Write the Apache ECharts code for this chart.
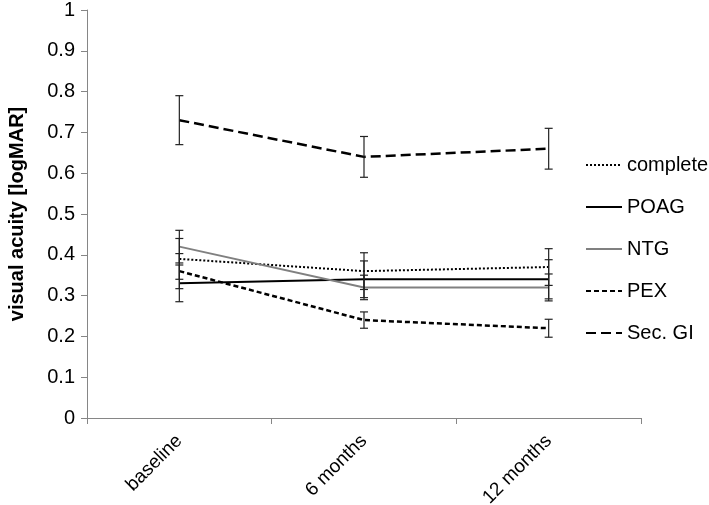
<!DOCTYPE html>
<html>
<head>
<meta charset="utf-8">
<script src="https://cdn.jsdelivr.net/npm/echarts@6/dist/echarts.min.js"></script>
<style>
html,body{margin:0;padding:0;background:#fff;}
#chart{width:709px;height:505px;}
</style>
</head>
<body>
<div id="chart"></div>
<script>
const categories = ['baseline', '6 months', '12 months'];
const complete = [0.39, 0.36, 0.37];
const completeErr = [0.05, 0.045, 0.045];
const poag = [0.33, 0.34, 0.34];
const poagErr = [0.045, 0.045, 0.048];
const ntg = [0.42, 0.32, 0.32];
const ntgErr = [0.04, 0.03, 0.033];
const pex = [0.36, 0.24, 0.22];
const pexErr = [0.043, 0.02, 0.022];
const secGl = [0.73, 0.64, 0.66];
const secGlErr = [0.06, 0.05, 0.05];

const FONT = '"Liberation Sans", Arial, sans-serif';

function errData(vals, errs) {
  return vals.map((v, i) => [i, v - errs[i], v + errs[i]]);
}
const errorData = [].concat(
  errData(complete, completeErr),
  errData(poag, poagErr),
  errData(ntg, ntgErr),
  errData(pex, pexErr),
  errData(secGl, secGlErr)
);

function lineSeries(name, data, color, width, type) {
  return {
    name: name, type: 'line', data: data, symbol: 'none',
    lineStyle: { color: color, width: width, type: type },
    itemStyle: { color: color },
    z: 2, animation: false
  };
}

const chart = echarts.init(document.getElementById('chart'));
chart.setOption({
  animation: false,
  grid: { left: 87, top: 10, right: 68, bottom: 87, containLabel: false, outerBoundsMode: 'none' },
  legend: {
    orient: 'vertical', left: 580, top: 149,
    itemWidth: 36, itemHeight: 14, itemGap: 20,
    itemStyle: { color: 'transparent', borderColor: 'transparent', borderWidth: 0 },
    textStyle: { fontFamily: FONT, fontSize: 20, color: '#000', lineHeight: 22 },
    data: ['complete', 'POAG', 'NTG', 'PEX', 'Sec. GI']
  },
  xAxis: {
    type: 'category', data: categories, boundaryGap: true,
    axisLine: { lineStyle: { color: '#868686', width: 1 } },
    axisTick: { show: true, length: 6, lineStyle: { color: '#868686' } },
    axisLabel: { rotate: 45, fontFamily: FONT, fontSize: 19, color: '#000', margin: 20 }
  },
  yAxis: {
    type: 'value', min: 0, max: 1, interval: 0.1,
    name: 'visual acuity [logMAR]', nameLocation: 'middle', nameGap: 60,
    nameTextStyle: { fontFamily: FONT, fontSize: 20, fontWeight: 'bold', color: '#000' },
    splitLine: { show: false },
    axisLine: { show: true, lineStyle: { color: '#868686', width: 1 } },
    axisTick: { show: true, length: 6, lineStyle: { color: '#868686' } },
    axisLabel: { fontFamily: FONT, fontSize: 20, color: '#000', margin: 12 }
  },
  series: [
    lineSeries('complete', complete, '#000', 2, [2, 2]),
    lineSeries('POAG', poag, '#000', 2, 'solid'),
    lineSeries('NTG', ntg, '#808080', 2, 'solid'),
    lineSeries('PEX', pex, '#000', 2.5, [5, 3]),
    lineSeries('Sec. GI', secGl, '#000', 2.5, [10, 5]),
    {
      type: 'custom', name: 'err', data: errorData, z: 3,
      encode: { x: 0, y: [1, 2] },
      renderItem: function (params, api) {
        const x = api.value(0);
        const lo = api.coord([x, api.value(1)]);
        const hi = api.coord([x, api.value(2)]);
        const hw = 4;
        const st = { stroke: '#222', lineWidth: 1.2 };
        return {
          type: 'group',
          children: [
            { type: 'line', shape: { x1: lo[0], y1: lo[1], x2: hi[0], y2: hi[1] }, style: st },
            { type: 'line', shape: { x1: lo[0] - hw, y1: lo[1], x2: lo[0] + hw, y2: lo[1] }, style: st },
            { type: 'line', shape: { x1: hi[0] - hw, y1: hi[1], x2: hi[0] + hw, y2: hi[1] }, style: st }
          ]
        };
      }
    }
  ]
});
</script>
</body>
</html>
